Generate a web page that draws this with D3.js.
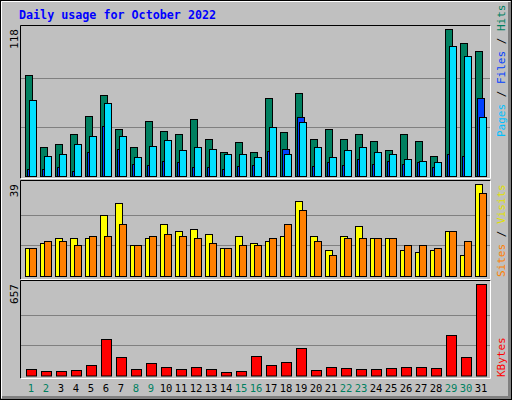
<!DOCTYPE html>
<html><head><meta charset="utf-8">
<script src="https://cdn.jsdelivr.net/npm/d3@7"></script>
<style>body{margin:0;background:#fff}svg{display:block}</style>
</head><body>
<script>
const days = d3.range(1, 32);
const weekend = [1,2,8,9,15,16,22,23,29,30];
const hits  = [81,23,26,34,48,65,38,23,44,36,34,46,30,19,27,19,63,35,67,30,38,30,34,28,21,34,28,16,118,107,100];
const files = [61,16,18,26,32,59,32,15,24,29,21,23,22,18,18,15,39,18,43,23,15,21,23,19,18,14,12,11,104,96,47];
const pages = [6,6,7,4,19,40,22,10,9,12,11,7,7,6,8,9,20,22,47,8,11,9,14,10,12,10,11,7,18,16,63];
const visits= [12,14,16,16,16,26,31,13,16,22,19,20,18,12,17,14,15,17,32,17,11,17,21,16,16,11,10,11,19,9,39];
const sites = [12,15,15,13,17,17,22,13,17,18,17,16,14,12,13,13,16,22,28,15,9,16,16,16,16,13,13,12,19,15,35];
const kbytes= [48,34,34,41,77,261,132,48,91,62,48,62,48,26,34,141,77,98,199,41,62,55,48,48,55,62,62,55,293,134,657];
const maxHits = 118, maxVisits = 39, maxKB = 657;

const W = 512, H = 400;
const svg = d3.select("body").append("svg").attr("width", W).attr("height", H);
const mono = "DejaVu Sans Mono, monospace";

// frame
svg.append("rect").attr("x",0).attr("y",0).attr("width",W).attr("height",H).attr("fill","#c0c0c0");
svg.append("rect").attr("x",0.5).attr("y",0.5).attr("width",W-1).attr("height",H-1).attr("fill","none").attr("stroke","#000");
svg.append("path").attr("d",`M1.5,${H-2}V1.5H${W-2}`).attr("fill","none").attr("stroke","#fff");
svg.append("path").attr("d",`M2,${H-2.5}H${W-2.5}V2`).attr("fill","none").attr("stroke","#808080").attr("stroke-width",3);

svg.append("text").attr("x",19).attr("y",19).attr("font-family",mono).attr("font-weight","bold")
  .attr("font-size",11.7).attr("fill","#0000ff").text("Daily usage for October 2022");

const x = d3.scaleLinear().domain([1,31]).range([25,475]);

function panel(y0, y1, top, bottom, max, label) {
  // panel box
  svg.append("rect").attr("x",20.5).attr("y",y0+0.5).attr("width",470).attr("height",y1-y0)
    .attr("fill","#c0c0c0").attr("stroke","none");
  svg.append("path").attr("d",`M20.5,${y1+0.5}V${y0+0.5}H490.5`).attr("fill","none").attr("stroke","#000");
  svg.append("path").attr("d",`M20.5,${y1+0.5}H490.5V${y0+0.5}`).attr("fill","none").attr("stroke","#fff");
  const y = d3.scaleLinear().domain([0,max]).range([bottom, top]);
  [max/3, 2*max/3].forEach(v => {
    svg.append("line").attr("x1",21).attr("x2",490).attr("y1",Math.round(y(v))+0.5).attr("y2",Math.round(y(v))+0.5)
      .attr("stroke","#808080");
  });
  svg.append("text").attr("transform",`translate(18,${top}) rotate(-90)`).attr("text-anchor","end")
    .attr("font-family",mono).attr("font-size",11).attr("fill","#000").text(label);
  return y;
}

function bars(data, y, dx, w, color) {
  svg.append("g").selectAll("rect").data(data).join("rect")
    .attr("x",(d,i)=>x(days[i])+dx+0.5).attr("width",w)
    .attr("y",d=>Math.round(y(d))+0.5).attr("height",d=>Math.max(0, y.range()[0]-Math.round(y(d))))
    .attr("fill",color).attr("stroke","#000");
}

const y1 = panel(25, 178, 29, 176, maxHits, "118");
bars(hits, y1, 0, 7, "#008060");
bars(pages, y1, 2, 7, "#0040ff");
bars(files, y1, 4, 7, "#00e0ff");

const y2 = panel(180, 279, 184, 276, maxVisits, "39");
bars(visits, y2, 0, 7, "#ffff00");
bars(sites, y2, 4, 7, "#ff8000");

const y3 = panel(280, 378, 284, 375.5, maxKB, "657");
bars(kbytes, y3, 1, 10, "#ff0000");

// x labels
svg.append("g").selectAll("text").data(days).join("text")
  .attr("x",d=>x(d)+6).attr("y",392).attr("text-anchor","middle")
  .attr("font-family",mono).attr("font-size",10.5)
  .attr("fill",d=>weekend.includes(d)?"#008060":"#000").text(d=>d);

// right-side legends
function legend(yBottom, parts) {
  const t = svg.append("text").attr("transform",`translate(505,${yBottom}) rotate(-90)`)
    .attr("font-family",mono).attr("font-size",11);
  parts.forEach(([s,c]) => t.append("tspan").attr("fill",c).text(s));
}
legend(137, [["Pages","#00c0ff"],[" / ","#000"],["Files","#0040ff"],[" / ","#000"],["Hits","#008060"]]);
legend(277, [["Sites","#ff8000"],[" / ","#000"],["Visits","#e0e000"]]);
legend(377, [["KBytes","#ff0000"]]);
</script>
</body></html>
